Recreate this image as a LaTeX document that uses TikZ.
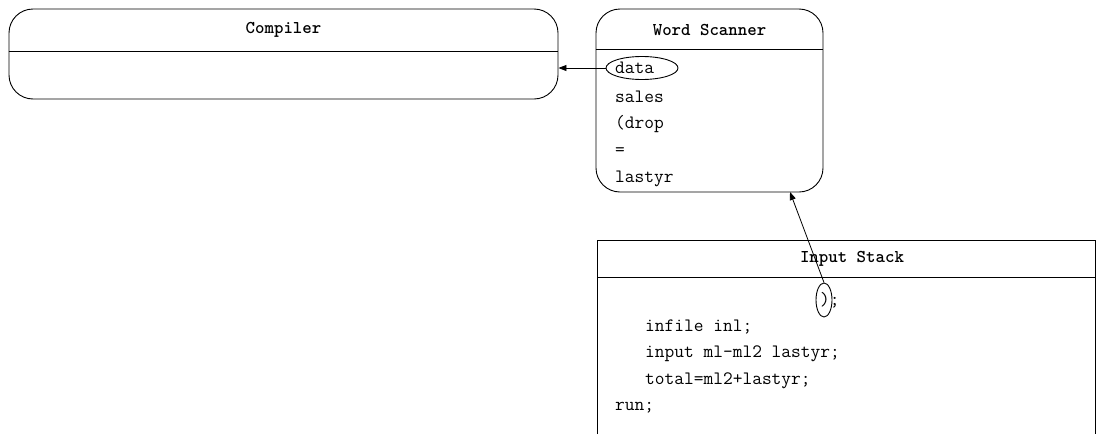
\documentclass[tikz,border=0pt]{standalone}
\usepackage{fontspec}
\usetikzlibrary{arrows.meta,shapes.geometric}
\begin{document}
\begin{tikzpicture}[x=1pt,y=-1pt,
  every node/.style={font=\ttfamily\fontsize{18.9}{20}\selectfont, inner sep=0pt},
  box/.style={draw, line width=0.9pt, rounded corners=24pt, rectangle},
  title/.style={font=\ttfamily\bfseries\fontsize{18}{20}\selectfont},
  codeline/.style={anchor=west},
  ring/.style={draw, ellipse, line width=0.9pt},
  conn/.style={line width=0.8pt, -{Triangle[length=8pt,width=6pt]}}]
\useasboundingbox (0,0) rectangle (1097,434);
% Compiler
\node[box, minimum width=549pt, minimum height=90pt] (comp) at (283.5,54) {};
\node[title] (comptitle) at (283.5,30) {Compiler};
\draw[line width=0.9pt] (comp.west |- 0,51) -- (comp.east |- 0,51);
% Word Scanner
\node[box, minimum width=227pt, minimum height=183pt] (ws) at (709.5,100.5) {};
\node[title] (wstitle) at (709.5,30) {Word Scanner};
\draw[line width=0.9pt] (ws.west |- 0,49) -- (ws.east |- 0,49);
\node[codeline] (w1) at (615,68) {data};
\node[codeline] (w2) at (615,97) {sales};
\node[codeline] (w3) at (615,124) {(drop};
\node[codeline] (w4) at (615,152) {=};
\node[codeline] (w5) at (615,179) {lastyr};
\node[ring, minimum width=72pt, minimum height=23pt] (dataell) at (642,68) {};
\draw[conn] (dataell.west) -- (dataell.west -| comp.east);
% Input Stack
\node (is) at (846,337) {};
\draw[line width=0.9pt] (597,434) -- (597,240) -- (1095,240) -- (1095,434);
\draw[line width=0.9pt] (597,277) -- (1095,277);
\node[title] (istitle) at (852,259) {Input Stack};
\node[codeline] (i0) at (820,300) {);};
\node[codeline] (i1) at (645,327) {infile inl;};
\node[codeline] (i2) at (645,354) {input ml-ml2 lastyr;};
\node[codeline] (i3) at (645,381) {total=ml2+lastyr;};
\node[codeline] (i4) at (615,408) {run;};
\node[ring, minimum width=16pt, minimum height=34pt] (parell) at (824,300) {};
\coordinate (wsin) at (790,192);
\draw[conn] (parell.north) -- (wsin);
\end{tikzpicture}
\end{document}
